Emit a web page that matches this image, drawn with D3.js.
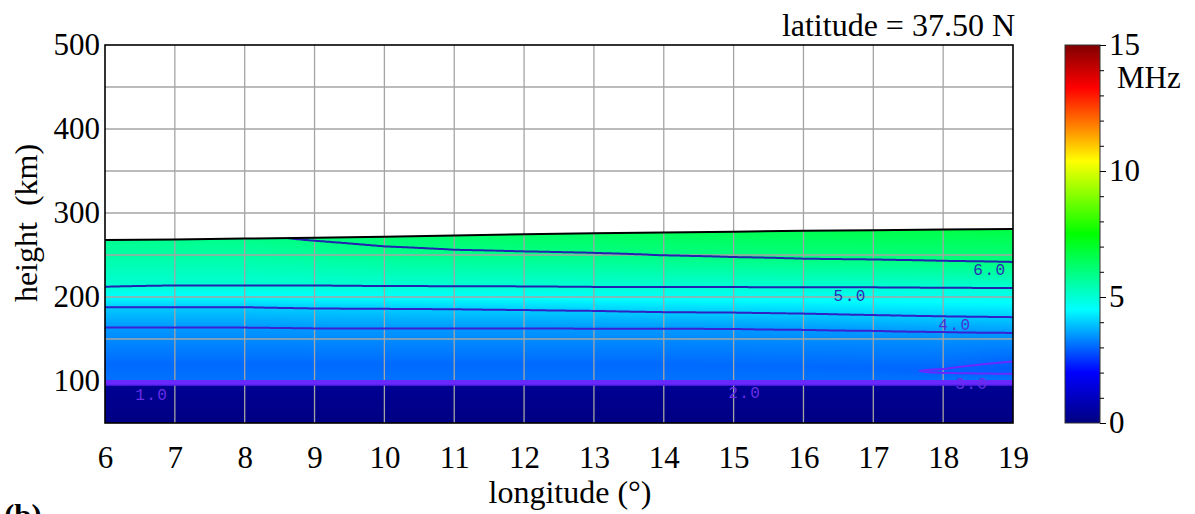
<!DOCTYPE html>
<html>
<head>
<meta charset="utf-8">
<script src="https://cdn.jsdelivr.net/npm/d3@7"></script>
<style>
body { margin: 0; background: #fff; }
svg { display: block; font-family: "Liberation Serif", "Times New Roman", serif; }
</style>
</head>
<body>
<svg width="1195" height="514"></svg>
<script>
const lons = [6, 7, 8, 9, 10, 11, 12, 13, 14, 15, 16, 17, 18, 19];
// top edge of the field (km) and the frequency there (MHz)
const topKm = [268, 268.5, 269.5, 270.5, 271.8, 273.2, 274.6, 275.8, 276.8, 277.8, 278.8, 279.6, 280.3, 281];
const topMHz = [5.82, 5.86, 5.9, 6.07, 6.2, 6.28, 6.33, 6.38, 6.45, 6.5, 6.55, 6.6, 6.65, 6.7];
// heights (km) of the iso-frequency lines
const km60 = [null, null, null, 267, 260.2, 256.2, 254.2, 252.5, 249.5, 247.5, 245.5, 244.5, 243, 241.7];
const km50 = [212, 213.5, 213.5, 213.5, 213, 212.8, 212.5, 212, 212, 211.8, 211.5, 211.5, 211, 210.7];
const km40 = [188, 188, 188, 186.5, 186, 185.5, 184.5, 183.5, 182, 181.5, 180.3, 178.5, 177, 176];
const km35 = [163.8, 163.8, 163.8, 162.8, 162.8, 162.8, 162.8, 162.5, 162.5, 162, 161, 159.8, 158.3, 157.3];
// E-F valley minimum
const valleyKm = [120, 120, 120, 120, 120, 120, 120, 120, 120, 119, 118, 116, 111.5, 115];
const valleyMHz = [3.04, 3.04, 3.04, 3.04, 3.04, 3.04, 3.04, 3.04, 3.04, 3.04, 3.035, 3.02, 2.97, 2.88];
// bottom side, the same at every longitude
const baseKm = [50, 95, 95.5, 96.6, 97.7, 98.8, 100, 102];
const baseMHz = [0.05, 0.3, 1.0, 1.5, 2.0, 2.5, 3.0, 3.12];

const levels = [1, 1.5, 2, 2.5, 3, 3.5, 4, 5, 6];
const labelText = ['1.0', '2.0', '3.0', '4.0', '5.0', '6.0'];
const labelLon = [6.67, 15.16, 18.41, 18.17, 16.67, 18.67];
const labelKm = [84.5, 86.9, 97.6, 167.9, 202.4, 233.3];

const cbMHz = [0, 2.0, 4.5, 7.5, 10.4, 11.8, 13.3, 15];
const cbColors = ['#000080', '#0000ff', '#00ffff', '#00ff00', '#ffff00', '#ff8000', '#ff0000', '#800000'];
const cbTicks = [0, 5, 10, 15];

const xTicks = d3.range(6, 20);
const yTicks = [100, 200, 300, 400, 500];

const plotL = 105, plotT = 45, plotW = 908, plotH = 378;

const svg = d3.select('svg');

const x = d3.scaleLinear().domain([6, 19]).range([plotL, plotL + plotW]);
const y = d3.scaleLinear().domain([50, 500]).range([plotT + plotH, plotT]);
const cmap = d3.scaleLinear().domain(cbMHz).range(cbColors).clamp(true);

// knots of the profile at longitude index i
const knots = lons.map((d, i) => {
    const k = baseKm.map((h, j) => [h, baseMHz[j]]);
    k.push([valleyKm[i], valleyMHz[i]], [km35[i], 3.5], [km40[i], 4], [km50[i], 5]);
    if (km60[i] != null) k.push([km60[i], 6]);
    k.push([topKm[i], topMHz[i]]);
    return k;
});

function evalKnots(k, h) {
    if (h <= k[0][0]) return k[0][1];
    for (let j = 1; j < k.length; j++) {
        if (h <= k[j][0]) {
            const t = (h - k[j - 1][0]) / (k[j][0] - k[j - 1][0]);
            return k[j - 1][1] + t * (k[j][1] - k[j - 1][1]);
        }
    }
    return k[k.length - 1][1];
}

const topAt = d3.scaleLinear().domain(lons).range(topKm);

function value(lon, h) {
    lon = Math.max(6, Math.min(19, lon));
    h = Math.max(50, Math.min(topAt(lon), h));
    let i = Math.min(lons.length - 2, Math.floor(lon - 6));
    const t = (lon - lons[i]) / (lons[i + 1] - lons[i]);
    return (1 - t) * evalKnots(knots[i], h) + t * evalKnots(knots[i + 1], h);
}

// colour field painted into a canvas, then placed as an image
const canvas = document.createElement('canvas');
canvas.width = plotW;
canvas.height = plotH;
const ctx = canvas.getContext('2d');
const img = ctx.createImageData(plotW, plotH);
for (let px = 0; px < plotW; px++) {
    const lon = x.invert(plotL + px + 0.5);
    const topY = y(topAt(lon));
    for (let py = 0; py < plotH; py++) {
        const Y = plotT + py + 0.5;
        const o = (py * plotW + px) * 4;
        if (Y < topY) {
            img.data[o] = 255; img.data[o + 1] = 255; img.data[o + 2] = 255; img.data[o + 3] = 255;
            continue;
        }
        const c = d3.rgb(cmap(value(lon, y.invert(Y))));
        img.data[o] = c.r; img.data[o + 1] = c.g; img.data[o + 2] = c.b; img.data[o + 3] = 255;
    }
}
ctx.putImageData(img, 0, 0);

svg.append('image')
    .attr('x', plotL).attr('y', plotT)
    .attr('width', plotW).attr('height', plotH)
    .attr('href', canvas.toDataURL());

// grid
const grd = svg.append('g').attr('stroke', '#a4a4a4').attr('stroke-width', 1.3);
grd.selectAll('.vg').data(xTicks.slice(1, -1)).enter().append('line')
    .attr('x1', d => x(d)).attr('x2', d => x(d))
    .attr('y1', plotT).attr('y2', plotT + plotH);
grd.selectAll('.hg').data(d3.range(100, 500, 50)).enter().append('line')
    .attr('x1', plotL).attr('x2', plotL + plotW)
    .attr('y1', d => y(d)).attr('y2', d => y(d));

// contours, clipped to the area below the top edge
const defs = svg.append('defs');
defs.append('clipPath').attr('id', 'fieldclip')
    .append('path')
    .datum(lons)
    .attr('d', d3.area().x(d => x(d)).y0(y(50)).y1((d, i) => y(topKm[i])));

const pad = 4, sx = 2, sy = 1;
const X0 = plotL - pad, Y0 = plotT - pad;
const nx = Math.ceil((plotW + 2 * pad) / sx) + 1;
const ny = plotH + 2 * pad + 1;
const grid = new Float64Array(nx * ny);
for (let j = 0; j < ny; j++) {
    for (let i = 0; i < nx; i++) {
        grid[j * nx + i] = value(x.invert(X0 + i * sx), y.invert(Y0 + j * sy));
    }
}
const contours = d3.contours().size([nx, ny]).thresholds(levels)(grid);
const path = d3.geoPath(d3.geoTransform({
    point: function(px, py) { this.stream.point(X0 + (px - 0.5) * sx, Y0 + (py - 0.5) * sy); }
}));
const lineColor = v => v < 2 ? '#5a22ee' : v <= 3 ? '#6a28ff' : v <= 3.5 ? '#3822d4' : v <= 4 ? '#2e22c6' : '#2222b0';

svg.append('g')
    .attr('clip-path', 'url(#fieldclip)')
    .selectAll('path')
    .data(contours)
    .enter().append('path')
    .attr('d', path)
    .attr('fill', 'none')
    .attr('stroke', d => lineColor(d.value))
    .attr('stroke-width', d => d.value < 3 ? 2.4 : 2);

// top edge of the field
svg.append('path')
    .datum(lons)
    .attr('d', d3.line().x(d => x(d)).y((d, i) => y(topKm[i])))
    .attr('fill', 'none')
    .attr('stroke', '#000')
    .attr('stroke-width', 2);

// contour labels
svg.append('g')
    .selectAll('text')
    .data(labelText)
    .enter().append('text')
    .attr('x', (d, i) => x(labelLon[i]))
    .attr('y', (d, i) => y(labelKm[i]))
    .attr('dy', '0.35em')
    .attr('text-anchor', 'middle')
    .attr('font-family', '"Liberation Mono", "DejaVu Sans Mono", monospace')
    .attr('font-size', 16)
    .attr('letter-spacing', 1.5)
    .attr('fill', d => +d <= 3 ? '#6a2ee8' : +d <= 4 ? '#4a30d8' : '#2c2cb4')
    .text(d => d);

// frame
svg.append('rect')
    .attr('x', plotL).attr('y', plotT).attr('width', plotW).attr('height', plotH)
    .attr('fill', 'none').attr('stroke', '#000').attr('stroke-width', 1.6);

// axes
const xAxis = svg.append('g')
    .attr('transform', `translate(0,${plotT + plotH})`)
    .call(d3.axisBottom(x).tickValues(xTicks).tickSize(0).tickPadding(23).tickFormat(d3.format('d')));
const yAxis = svg.append('g')
    .attr('transform', `translate(${plotL},0)`)
    .call(d3.axisLeft(y).tickValues(yTicks).tickSize(0).tickPadding(5));
[xAxis, yAxis].forEach(a => {
    a.select('.domain').remove();
    a.selectAll('text').attr('font-size', 31).attr('font-family', '"Liberation Serif", serif').attr('fill', '#000');
});

svg.append('text')
    .attr('x', 570).attr('y', 503)
    .attr('text-anchor', 'middle')
    .attr('font-size', 32)
    .text('longitude (°)');

svg.append('text')
    .attr('transform', 'translate(37,223) rotate(-90)')
    .attr('text-anchor', 'middle')
    .attr('font-size', 32)
    .style('white-space', 'pre')
    .text('height  (km)');

svg.append('text')
    .attr('x', 1015).attr('y', 36)
    .attr('text-anchor', 'end')
    .attr('font-size', 32)
    .text('latitude = 37.50 N');

svg.append('text')
    .attr('x', 4).attr('y', 526)
    .attr('font-size', 31)
    .attr('font-weight', 'bold')
    .text('(b)');

// colour bar
const cbX = 1065, cbW = 35;
const cb = d3.scaleLinear().domain([0, 15]).range([plotT + plotH, plotT]);
const grad = defs.append('linearGradient').attr('id', 'cbgrad')
    .attr('x1', 0).attr('y1', 1).attr('x2', 0).attr('y2', 0);
grad.selectAll('stop').data(cbMHz).enter().append('stop')
    .attr('offset', d => d / 15)
    .attr('stop-color', (d, i) => cbColors[i]);

svg.append('rect')
    .attr('x', cbX).attr('y', plotT).attr('width', cbW).attr('height', plotH)
    .attr('fill', 'url(#cbgrad)')
    .attr('stroke', '#333').attr('stroke-width', 1);

const cbMinor = svg.append('g')
    .attr('transform', `translate(${cbX + cbW},0)`)
    .call(d3.axisRight(cb).tickValues(d3.range(0, 16).filter(d => d % 5)).tickSize(4).tickFormat(''));
cbMinor.select('.domain').remove();

const cbAxis = svg.append('g')
    .attr('transform', `translate(${cbX + cbW},0)`)
    .call(d3.axisRight(cb).tickValues(cbTicks).tickSize(6).tickPadding(3));
cbAxis.select('.domain').remove();
cbAxis.selectAll('text').attr('font-size', 31).attr('font-family', '"Liberation Serif", serif').attr('fill', '#000');

svg.append('text')
    .attr('x', 1117).attr('y', 88)
    .attr('font-size', 31)
    .text('MHz');
</script>
</body>
</html>
